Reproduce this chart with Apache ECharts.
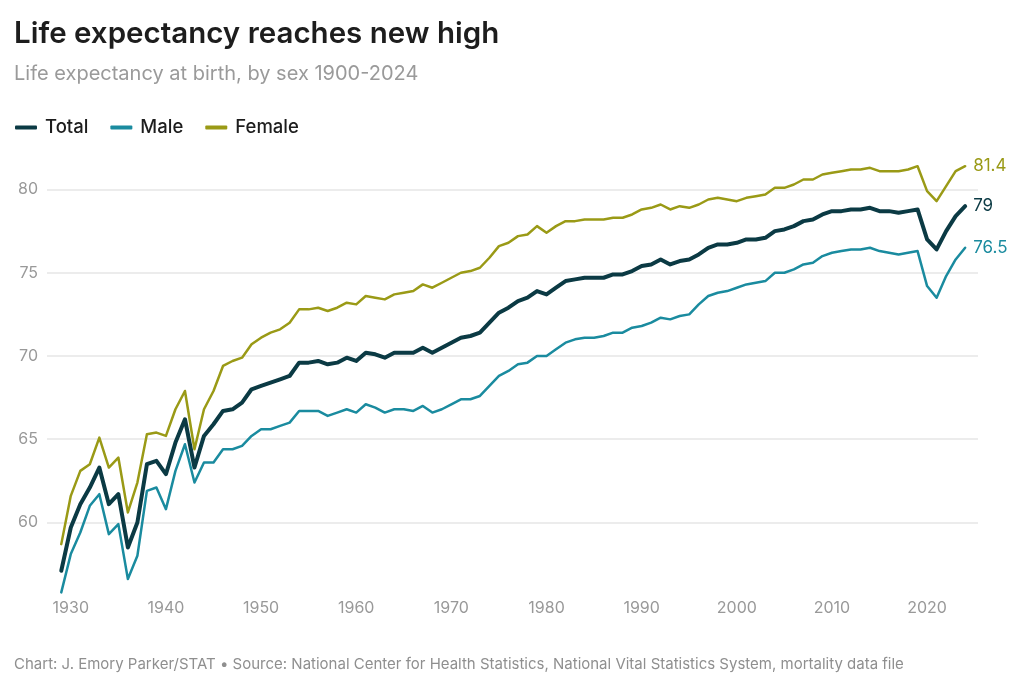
<!DOCTYPE html>
<html>
<head>
<meta charset="utf-8">
<script src="https://cdn.jsdelivr.net/npm/echarts@6/dist/echarts.min.js"></script>
<style>
html,body{margin:0;padding:0;background:#fff;}
#chart{width:1024px;height:691px;}
</style>
</head>
<body>
<div id="chart"></div>
<script>
const years = [];
for (let y = 1929; y <= 2024; y++) years.push(y);

const total = [57.1,59.7,61.1,62.1,63.3,61.1,61.7,58.5,60.0,63.5,63.7,62.9,64.8,66.2,63.3,65.2,65.9,66.7,66.8,67.2,
68.0,68.2,68.4,68.6,68.8,69.6,69.6,69.7,69.5,69.6,69.9,69.7,70.2,70.1,69.9,70.2,70.2,70.2,70.5,70.2,
70.5,70.8,71.1,71.2,71.4,72.0,72.6,72.9,73.3,73.5,73.9,73.7,74.1,74.5,74.6,74.7,74.7,74.7,74.9,74.9,
75.1,75.4,75.5,75.8,75.5,75.7,75.8,76.1,76.5,76.7,76.7,76.8,77.0,77.0,77.1,77.5,77.6,77.8,78.1,78.2,
78.5,78.7,78.7,78.8,78.8,78.9,78.7,78.7,78.6,78.7,78.8,77.0,76.4,77.5,78.4,79.0];

const male = [55.8,58.1,59.4,61.0,61.7,59.3,59.9,56.6,58.0,61.9,62.1,60.8,63.1,64.7,62.4,63.6,63.6,64.4,64.4,64.6,
65.2,65.6,65.6,65.8,66.0,66.7,66.7,66.7,66.4,66.6,66.8,66.6,67.1,66.9,66.6,66.8,66.8,66.7,67.0,66.6,
66.8,67.1,67.4,67.4,67.6,68.2,68.8,69.1,69.5,69.6,70.0,70.0,70.4,70.8,71.0,71.1,71.1,71.2,71.4,71.4,
71.7,71.8,72.0,72.3,72.2,72.4,72.5,73.1,73.6,73.8,73.9,74.1,74.3,74.4,74.5,75.0,75.0,75.2,75.5,75.6,
76.0,76.2,76.3,76.4,76.4,76.5,76.3,76.2,76.1,76.2,76.3,74.2,73.5,74.8,75.8,76.5];

const female = [58.7,61.6,63.1,63.5,65.1,63.3,63.9,60.6,62.4,65.3,65.4,65.2,66.8,67.9,64.4,66.8,67.9,69.4,69.7,69.9,
70.7,71.1,71.4,71.6,72.0,72.8,72.8,72.9,72.7,72.9,73.2,73.1,73.6,73.5,73.4,73.7,73.8,73.9,74.3,74.1,
74.4,74.7,75.0,75.1,75.3,75.9,76.6,76.8,77.2,77.3,77.8,77.4,77.8,78.1,78.1,78.2,78.2,78.2,78.3,78.3,
78.5,78.8,78.9,79.1,78.8,79.0,78.9,79.1,79.4,79.5,79.4,79.3,79.5,79.6,79.7,80.1,80.1,80.3,80.6,80.6,
80.9,81.0,81.1,81.2,81.2,81.3,81.1,81.1,81.1,81.2,81.4,79.9,79.3,80.2,81.1,81.4];

const xTicks = [1930,1940,1950,1960,1970,1980,1990,2000,2010,2020];
const yTicks = [60,65,70,75,80];

const seriesNames = ['Total','Male','Female'];
const seriesColors = ['#0b3a44','#1a8b9f','#9a9a16'];
const seriesWidths = [4,2.5,2.5];
const seriesData = [total, male, female];

const FONT = 'Inter';
const chart = echarts.init(document.getElementById('chart'));

const series = seriesNames.map((name, i) => ({
  name: name,
  type: 'line',
  data: years.map((y, k) => [y, seriesData[i][k]]),
  showSymbol: false,
  symbol: 'none',
  z: i === 0 ? 5 : 3,
  lineStyle: { color: seriesColors[i], width: seriesWidths[i], join: 'round', cap: 'round' },
  itemStyle: { color: seriesColors[i] },
  endLabel: {
    show: true,
    distance: 8,
    color: seriesColors[i],
    fontFamily: FONT,
    fontSize: 17,
    formatter: p => String(p.value[1])
  },
  animation: false
}));

chart.setOption({
  animation: false,
  backgroundColor: '#fff',
  title: [
    { text: 'Life expectancy reaches new high', left: 14, top: 19, padding: 0,
      textStyle: { fontFamily: FONT, fontSize: 29.5, fontWeight: 600, color: '#1d1d1d' } },
    { text: 'Life expectancy at birth, by sex 1900-2024', left: 14, top: 64, padding: 0,
      textStyle: { fontFamily: FONT, fontSize: 20, fontWeight: 400, color: '#9a9a9a' } },
    { text: 'Chart: J. Emory Parker/STAT \u2022 Source: National Center for Health Statistics, National Vital Statistics System, mortality data file',
      left: 14, top: 657, padding: 0,
      textStyle: { fontFamily: FONT, fontSize: 15, fontWeight: 400, color: '#8f8f8f' } }
  ],
  legend: {
    left: 15, top: 118, padding: 0,
    itemWidth: 22, itemHeight: 4, itemGap: 22,
    icon: 'roundRect',
    textStyle: { fontFamily: FONT, fontSize: 18.5, fontWeight: 500, color: '#1d1d1d', padding: [0, 0, 0, 3] },
    data: seriesNames.map((n, i) => ({ name: n, itemStyle: { color: seriesColors[i] } }))
  },
  grid: { left: 47, right: 46, top: 156.2, bottom: 93.6, containLabel: false },
  xAxis: {
    type: 'value',
    min: 1927.5, max: 2025.35,
    axisLine: { show: false },
    axisTick: { show: false, customValues: xTicks },
    splitLine: { show: false },
    axisLabel: { customValues: xTicks, color: '#999', fontFamily: FONT, fontSize: 16, margin: 3,
      formatter: v => String(v) }
  },
  yAxis: {
    type: 'value',
    min: 55.5, max: 82,
    axisLine: { show: false },
    axisTick: { show: false, customValues: yTicks },
    axisLabel: { customValues: yTicks, color: '#999', fontFamily: FONT, fontSize: 16, margin: 9 },
    splitLine: { show: true, lineStyle: { color: '#e6e6e6', width: 1.5 } }
  },
  series: series
});
</script>
</body>
</html>
